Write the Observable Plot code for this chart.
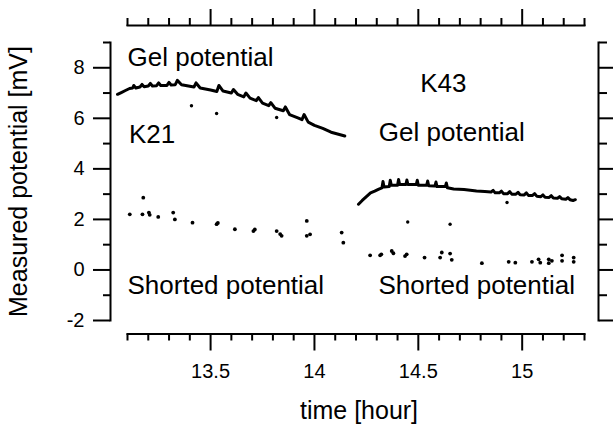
<!DOCTYPE html>
<html>
<head>
<meta charset="utf-8">
<script src="https://cdn.jsdelivr.net/npm/d3@7"></script>
<script src="https://cdn.jsdelivr.net/npm/@observablehq/plot@0.6"></script>
<style>
  html, body { margin: 0; padding: 0; background: white; }
</style>
</head>
<body>
<div id="chart"></div>
<script>
// Tick values
const xMajorTicks = [13.5, 14, 14.5, 15];
const xMinorTicks = [13.1, 13.2, 13.3, 13.4, 13.6, 13.7, 13.8, 13.9, 14.1, 14.2, 14.3, 14.4, 14.6, 14.7, 14.8, 14.9, 15.1, 15.2, 15.3];
const yMajorTicks = [-2, 0, 2, 4, 6, 8];
const yMinorTicks = [-1, 1, 3, 5, 7, 9];

// K21 gel potential trace [time hour, mV]
const k21Gel = [
  [13.052, 6.95], [13.07, 7.02], [13.09, 7.1], [13.11, 7.18], [13.125, 7.2], [13.13, 7.3], [13.14, 7.2],
  [13.16, 7.24], [13.17, 7.34], [13.18, 7.25], [13.20, 7.28], [13.21, 7.38], [13.22, 7.28],
  [13.24, 7.29], [13.25, 7.4], [13.26, 7.3], [13.29, 7.3], [13.30, 7.42], [13.31, 7.32],
  [13.33, 7.33], [13.34, 7.5], [13.36, 7.33], [13.40, 7.27], [13.42, 7.24], [13.43, 7.4],
  [13.45, 7.2], [13.50, 7.12], [13.53, 7.06], [13.54, 7.3], [13.56, 7.08], [13.60, 7.0],
  [13.61, 7.14], [13.63, 6.95], [13.66, 6.85], [13.67, 7.0], [13.69, 6.8], [13.72, 6.7],
  [13.73, 6.82], [13.75, 6.6], [13.78, 6.5], [13.79, 6.62], [13.81, 6.4], [13.85, 6.3],
  [13.86, 6.45], [13.88, 6.15], [13.92, 6.02], [13.94, 5.95], [13.95, 6.15], [13.97, 5.85],
  [14.0, 5.72], [14.04, 5.6], [14.08, 5.45], [14.12, 5.36], [14.146, 5.3]
];
// K21 isolated readings above the shorted series
const k21Stray = [[13.408, 6.5], [13.529, 6.19], [13.818, 6.03]];
// K21 shorted potential
const k21Shorted = [
  [13.111, 2.2], [13.176, 2.86], [13.172, 2.2], [13.203, 2.27], [13.207, 2.18], [13.248, 2.1],
  [13.32, 2.27], [13.328, 2.0], [13.413, 1.87], [13.529, 1.81], [13.535, 1.86], [13.617, 1.61],
  [13.706, 1.54], [13.713, 1.6], [13.818, 1.54], [13.842, 1.35], [13.835, 1.42], [13.963, 1.94],
  [13.963, 1.35], [13.979, 1.41], [14.131, 1.48], [14.139, 1.08]
];

// K43 gel potential trace
const k43Gel = [
  [14.212, 2.6], [14.23, 2.75], [14.25, 2.9], [14.27, 3.05], [14.29, 3.12], [14.31, 3.2],
  [14.325, 3.25], [14.33, 3.5], [14.335, 3.28], [14.36, 3.3], [14.365, 3.55], [14.37, 3.35],
  [14.40, 3.35], [14.405, 3.58], [14.41, 3.38], [14.44, 3.38], [14.445, 3.56], [14.45, 3.38],
  [14.49, 3.38], [14.495, 3.55], [14.50, 3.35], [14.54, 3.35], [14.545, 3.52], [14.55, 3.33],
  [14.58, 3.32], [14.585, 3.48], [14.59, 3.3], [14.63, 3.3], [14.635, 3.44], [14.64, 3.25],
  [14.67, 3.2], [14.72, 3.18], [14.78, 3.12], [14.82, 3.1], [14.85, 3.08], [14.86, 3.15],
  [14.87, 3.05], [14.89, 3.05], [14.90, 3.12], [14.91, 3.02], [14.93, 3.02], [14.94, 3.1],
  [14.95, 3.0], [14.97, 3.0], [14.98, 3.07], [14.99, 2.98], [15.01, 2.97], [15.02, 3.05],
  [15.03, 2.95], [15.05, 2.95], [15.06, 3.02], [15.07, 2.92], [15.09, 2.9], [15.10, 2.97],
  [15.11, 2.88], [15.13, 2.87], [15.14, 2.94], [15.15, 2.85], [15.17, 2.84], [15.18, 2.9],
  [15.19, 2.82], [15.21, 2.8], [15.22, 2.86], [15.23, 2.78], [15.245, 2.75], [15.256, 2.78]
];
const k43Stray = [[14.449, 1.9], [14.653, 1.81], [14.927, 2.67]];
const k43Shorted = [
  [14.268, 0.58], [14.316, 0.58], [14.322, 0.62], [14.372, 0.75], [14.380, 0.66],
  [14.436, 0.55], [14.444, 0.62], [14.53, 0.49], [14.605, 0.49], [14.613, 0.69],
  [14.653, 0.65], [14.661, 0.40], [14.806, 0.27], [14.935, 0.32], [14.967, 0.29],
  [15.047, 0.32], [15.079, 0.42], [15.087, 0.29], [15.128, 0.42], [15.143, 0.36],
  [15.128, 0.27], [15.192, 0.58], [15.192, 0.36], [15.248, 0.49], [15.248, 0.32]
];

// Annotations
const annotations = [
  {t: 13.1, v: 8.4, text: "Gel potential"},
  {t: 13.107, v: 5.35, text: "K21"},
  {t: 13.1, v: -0.62, text: "Shorted potential"},
  {t: 14.509, v: 7.36, text: "K43"},
  {t: 14.31, v: 5.45, text: "Gel potential"},
  {t: 14.308, v: -0.62, text: "Shorted potential"}
];
const xTitle = "time [hour]";
const yTitle = "Measured potential [mV]";

const chart = Plot.plot({
  width: 613,
  height: 430,
  marginLeft: 127,
  marginRight: 29,
  marginTop: 42,
  marginBottom: 110,
  style: {fontFamily: "'Liberation Sans', Arial, Helvetica, sans-serif", color: "black", background: "white"},
  x: {domain: [13.1, 15.3]},
  y: {domain: [-2, 9]},
  marks: [
    // axis lines (offset frame)
    Plot.frame({anchor: "bottom", insetBottom: -13.5, strokeWidth: 2}),
    Plot.frame({anchor: "top", insetTop: -17, strokeWidth: 2}),
    Plot.frame({anchor: "left", insetLeft: -17, strokeWidth: 2}),
    Plot.frame({anchor: "right", insetRight: -14, strokeWidth: 2}),
    // bottom axis
    Plot.axisX(xMajorTicks, {anchor: "bottom", dy: 13.5, tickSize: 17, tickPadding: 13, strokeWidth: 2, fontSize: 20, tickFormat: d => String(d), label: null}),
    Plot.axisX(xMinorTicks, {anchor: "bottom", dy: 13.5, tickSize: 7, strokeWidth: 2, fill: "none", label: null}),
    // top axis
    Plot.axisX(xMajorTicks, {anchor: "top", dy: -17, tickSize: 17, strokeWidth: 2, fill: "none", label: null}),
    Plot.axisX(xMinorTicks, {anchor: "top", dy: -17, tickSize: 8, strokeWidth: 2, fill: "none", label: null}),
    // left axis
    Plot.axisY(yMajorTicks, {anchor: "left", dx: -17, tickSize: 17, tickPadding: 9, strokeWidth: 2, fontSize: 20, tickFormat: d => String(d), label: null}),
    Plot.axisY(yMinorTicks, {anchor: "left", dx: -17, tickSize: 7, strokeWidth: 2, fill: "none", label: null}),
    // right axis
    Plot.axisY(yMajorTicks, {anchor: "right", dx: 14, tickSize: 17, strokeWidth: 2, fill: "none", label: null}),
    Plot.axisY(yMinorTicks, {anchor: "right", dx: 14, tickSize: 8, strokeWidth: 2, fill: "none", label: null}),
    // data
    Plot.line(k21Gel, {x: d => d[0], y: d => d[1], stroke: "black", strokeWidth: 3, curve: "linear"}),
    Plot.line(k43Gel, {x: d => d[0], y: d => d[1], stroke: "black", strokeWidth: 3, curve: "linear"}),
    Plot.dot(k21Stray.concat(k43Stray), {x: d => d[0], y: d => d[1], r: 1.7, fill: "black", stroke: null}),
    Plot.dot(k21Shorted, {x: d => d[0], y: d => d[1], r: 1.9, fill: "black", stroke: null}),
    Plot.dot(k43Shorted, {x: d => d[0], y: d => d[1], r: 1.9, fill: "black", stroke: null}),
    // annotations
    Plot.text(annotations, {x: "t", y: "v", text: "text", textAnchor: "start", lineAnchor: "middle", fontSize: 26, fill: "black"}),
    // axis titles
    Plot.text([xTitle], {frameAnchor: "bottom", dx: 3, dy: 90, fontSize: 25, fill: "black", textAnchor: "middle", lineAnchor: "middle"}),
    Plot.text([yTitle], {frameAnchor: "left", dx: -109, rotate: -90, fontSize: 25, fill: "black", textAnchor: "middle", lineAnchor: "middle"})
  ]
});
document.getElementById("chart").appendChild(chart);
</script>
</body>
</html>
